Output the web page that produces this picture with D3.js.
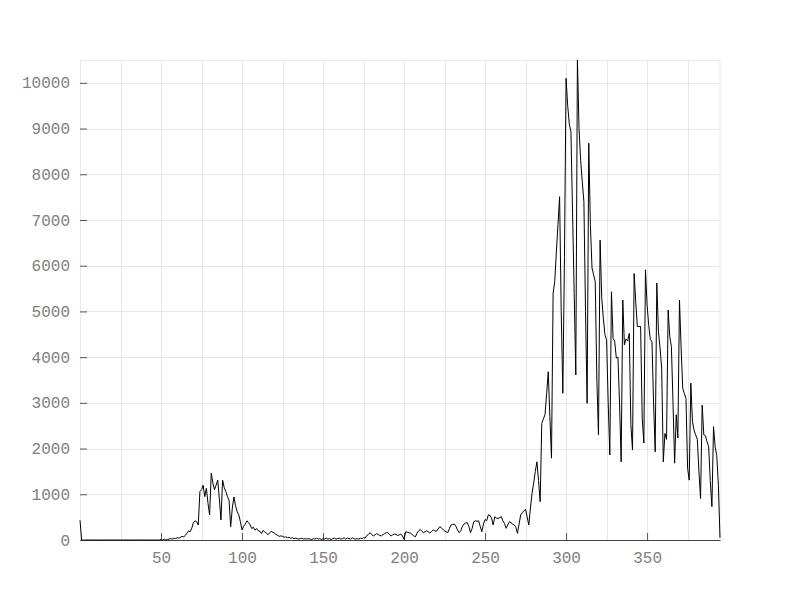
<!DOCTYPE html>
<html>
<head>
<meta charset="utf-8">
<script src="https://cdn.jsdelivr.net/npm/d3@7"></script>
<style>
body { margin: 0; background: #fff; }
.tick text { font-family: "Liberation Mono", monospace; font-size: 16px; fill: #808080; }
.grid line { stroke: #e8e8e8; stroke-width: 1; }
</style>
</head>
<body>
<div id="plot"></div>
<script>
// chart values (index 0..395)
var counts = [
  430,0,0,0,0,0,0,0,0,0,
  0,0,0,0,0,0,0,0,0,0,
  0,0,0,0,0,0,0,0,0,0,
  0,0,0,0,0,0,0,0,0,0,
  0,0,0,0,0,0,0,0,0,0,
  10,0,20,0,10,20,30,20,40,30,
  50,40,60,80,70,100,150,200,180,260,
  380,420,400,330,1060,1100,1200,950,1130,800,
  550,1460,1250,1100,1200,1310,900,440,1310,1150,
  1060,950,870,290,700,940,750,620,550,400,
  220,300,350,420,380,330,250,280,215,250,
  200,190,140,210,180,150,120,150,190,170,
  150,120,100,80,90,80,60,70,50,60,
  40,50,30,40,30,20,30,40,20,30,
  20,30,20,10,30,20,40,20,30,10,
  30,20,40,20,30,10,30,40,20,30,
  40,20,30,50,20,40,30,20,50,30,
  20,30,20,40,30,50,40,100,120,160,
  120,90,110,140,120,100,90,120,140,160,
  160,120,90,110,130,120,100,110,130,90,
  15,180,170,160,150,120,90,70,150,200,
  230,190,160,180,200,180,150,190,220,200,
  190,240,290,270,230,200,180,160,250,330,
  340,350,300,220,160,200,300,350,370,380,
  300,160,250,400,420,410,420,300,180,350,
  450,420,550,540,480,330,510,480,470,490,
  510,420,360,255,330,400,380,350,330,280,
  145,350,550,600,640,670,500,330,700,1020,
  1250,1500,1710,1300,840,2550,2650,2740,3200,3680,
  2700,1790,5400,5650,6300,6900,7510,5000,3210,6200,
  10100,9500,9100,8930,7150,5400,3610,10500,9000,8300,
  7840,7400,5000,2990,8680,6900,5950,5800,5650,3500,
  2300,6560,5300,4850,4490,4370,3000,1860,5430,4410,
  4350,3980,4000,3000,1710,5250,4270,4400,4350,4520,
  2520,1970,5830,5210,4670,4670,4670,2660,2120,5910,
  5140,4700,4380,4350,3000,1930,5620,4560,4200,3760,
  1710,2330,2200,5030,4450,4230,3000,1680,2740,2230,
  5250,4200,3320,3200,3100,1570,1310,3430,2590,2400,
  2300,2200,1500,910,2950,2300,2280,2150,2040,1300,
  730,2480,2040,1850,1200,50
];
var xTicks = [50, 100, 150, 200, 250, 300, 350];
var xGrid = [25, 50, 75, 100, 125, 150, 175, 200, 225, 250, 275, 300, 325, 350, 375];
var yTicks = [0, 1000, 2000, 3000, 4000, 5000, 6000, 7000, 8000, 9000, 10000];

var width = 800, height = 600;
var margin = {top: 60, right: 80, bottom: 60, left: 80};

var svg = d3.select('#plot')
  .append('svg')
  .attr('width', width)
  .attr('height', height);

var x = d3.scaleLinear()
  .domain([0, 395])
  .range([margin.left, width - margin.right]);

var y = d3.scaleLinear()
  .domain([0, 10500])
  .range([height - margin.bottom, margin.top]);

// grid
var grid = svg.append('g').attr('class', 'grid');
grid.selectAll('.vx')
  .data(xGrid)
  .enter().append('line')
  .attr('x1', function(d){ return Math.round(x(d)) + 0.5; })
  .attr('x2', function(d){ return Math.round(x(d)) + 0.5; })
  .attr('y1', y(10500))
  .attr('y2', y(0));
grid.selectAll('.hy')
  .data(yTicks.slice(1))
  .enter().append('line')
  .attr('x1', x(0))
  .attr('x2', x(395))
  .attr('y1', function(d){ return Math.round(y(d)) + 0.5; })
  .attr('y2', function(d){ return Math.round(y(d)) + 0.5; });

// plot border
svg.append('rect')
  .attr('x', x(0) + 0.5)
  .attr('y', y(10500) + 0.5)
  .attr('width', x(395) - x(0) - 0.5)
  .attr('height', y(0) - y(10500))
  .style('fill', 'none')
  .style('stroke', '#e8e8e8');

var xAxis = d3.axisBottom(x)
  .tickValues(xTicks)
  .tickFormat(d3.format('d'))
  .tickSizeInner(-7)
  .tickSizeOuter(0)
  .tickPadding(12);

var yAxis = d3.axisLeft(y)
  .tickValues(yTicks)
  .tickFormat(d3.format('d'))
  .tickSizeInner(-7)
  .tickSizeOuter(0)
  .tickPadding(10);

var gx = svg.append('g')
  .attr('transform', 'translate(0,' + y(0) + ')')
  .call(xAxis);
gx.select('.domain').attr('stroke', '#444');
gx.selectAll('.tick line').attr('stroke', '#555');
gx.selectAll('.tick text').attr('fill', '#808080').attr('font-family', null).attr('font-size', null);

var gy = svg.append('g')
  .attr('transform', 'translate(' + x(0) + ',0)')
  .call(yAxis);
gy.select('.domain').remove();
gy.selectAll('.tick line').attr('stroke', '#555');
gy.selectAll('.tick text').attr('fill', '#808080').attr('font-family', null).attr('font-size', null);

var line = d3.line()
  .x(function(d, i){ return x(i); })
  .y(function(d){ return y(d); });

svg.append('path')
  .datum(counts)
  .attr('d', line)
  .style('fill', 'none')
  .style('stroke', '#000')
  .style('stroke-width', 1);
</script>
</body>
</html>
